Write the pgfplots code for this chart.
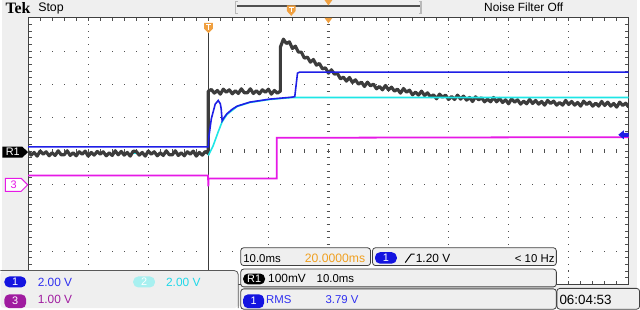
\documentclass[border=0pt]{standalone}
\usepackage{pgfplots}
\pgfplotsset{compat=1.18}
\usepackage{fontspec}
\setmainfont{Liberation Sans}
\newfontfamily\tekfont{Liberation Serif}
\definecolor{bgc}{HTML}{EFEFEF}
\definecolor{gridc}{HTML}{505050}
\definecolor{trgray}{HTML}{3C3C3C}
\definecolor{trblue}{HTML}{1E1EE6}
\definecolor{trcyan}{HTML}{1EE6E6}
\definecolor{trmag}{HTML}{E619E6}
\definecolor{pillblue}{HTML}{1414E0}
\definecolor{txtblue}{HTML}{3030F0}
\definecolor{pillcyan}{HTML}{A8F0F0}
\definecolor{txtcyan}{HTML}{20D8E8}
\definecolor{purp}{HTML}{A01CA0}
\definecolor{orng}{HTML}{F0A040}
\definecolor{orngtxt}{HTML}{F0A020}
\definecolor{boxline}{HTML}{404040}
\begin{document}
\begin{tikzpicture}[x=1pt,y=1pt]
\fill[bgc] (0,0) rectangle (640,309);
\fill[white] (26,22) rectangle (632,291);
% dotted graticule
\foreach \j in {1,2,3,5,6,7}{\foreach \k in {1,...,49}{\fill[gridc] ({26+\k*12.12-0.6},{22+\j*33.625-0.6}) rectangle ++(1.2,1.2);}}
\foreach \i in {1,2,3,4,6,7,8,9}{\foreach \k in {1,...,39}{\fill[gridc] ({26+\i*60.6-0.6},{22+\k*6.725-0.6}) rectangle ++(1.2,1.2);}}
% centre cross ticks
\foreach \k in {1,...,49}{\draw[gridc,line width=0.9] ({26+\k*12.12},154.8) -- ++(0,3.4);}
\foreach \k in {1,...,39}{\draw[gridc,line width=0.9] (327.3,{22+\k*6.725}) -- ++(3.4,0);}
% border ticks
\foreach \k in {1,...,49}{\draw[gridc,line width=0.9] ({26+\k*12.12},291) -- ++(0,-3.5); \draw[gridc,line width=0.9] ({26+\k*12.12},22) -- ++(0,3.5);}
\foreach \k in {1,...,39}{\draw[gridc,line width=0.9] (26,{22+\k*6.725}) -- ++(3.5,0); \draw[gridc,line width=0.9] (632,{22+\k*6.725}) -- ++(-3.5,0);}
\draw[boxline,line width=1.3] (26,22) rectangle (632,291);
\draw[trgray,line width=0.8] (208,22) -- (208,276);

\begin{axis}[at={(26pt,22pt)}, anchor=south west, scale only axis, width=606pt, height=269pt,
  xmin=-30, xmax=70, ymin=-4, ymax=4, hide axis, clip=true]
% Ch2 pre-trigger (under R1)
\addplot[trcyan, line width=1.6pt] coordinates {(-30,-0.07) (0,-0.07)};
% R1 reference (noisy)
\addplot[trgray, line width=3.2pt, line join=round] coordinates {
(-30,-0.01) (-29.5,-0.12) (-29,-0.04) (-28.5,-0.15) (-28,0.00) (-27.5,-0.09) (-27,-0.02) (-26.5,-0.14) (-26,-0.05) (-25.5,-0.13) (-25,0.01) (-24.5,-0.11)
(-24,-0.11) (-23.5,0.01) (-23,-0.13) (-22.5,-0.05) (-22,-0.14) (-21.5,-0.02) (-21,-0.09) (-20.5,0.00) (-20,-0.15) (-19.5,-0.04) (-19,-0.12) (-18.5,-0.01)
(-18,-0.09) (-17.5,-0.02) (-17,-0.14) (-16.5,-0.05) (-16,-0.13) (-15.5,0.01) (-15,-0.11) (-14.5,-0.01) (-14,-0.12) (-13.5,-0.04) (-13,-0.15) (-12.5,0.00)
(-12,-0.01) (-11.5,-0.12) (-11,-0.04) (-10.5,-0.15) (-10,0.00) (-9.5,-0.09) (-9,-0.02) (-8.5,-0.14) (-8,-0.05) (-7.5,-0.13) (-7,0.01) (-6.5,-0.11)
(-6,-0.11) (-5.5,0.01) (-5,-0.13) (-4.5,-0.05) (-4,-0.14) (-3.5,-0.02) (-3,-0.09) (-2.5,0.00) (-2,-0.15) (-1.5,-0.04) (-1,-0.12) (-0.5,-0.01)
(0,-0.07) (0,1.80)
(0.5,1.85) (1,1.74) (1.5,1.82) (2,1.71) (2.5,1.86) (3,1.77) (3.5,1.84) (4,1.72) (4.5,1.81) (5,1.73) (5.5,1.87) (6,1.75)
(6.5,1.75) (7,1.87) (7.5,1.73) (8,1.81) (8.5,1.72) (9,1.84) (9.5,1.77) (10,1.86) (10.5,1.71) (11,1.82) (11.5,1.74)
(12,1.80) (12,3.12)
(12.5,3.36) (13,3.23) (13.5,3.28) (14,3.08) (14.5,3.15) (15,2.97) (15.5,2.97) (16,2.79) (16.5,2.82) (17,2.67) (17.5,2.75) (18,2.58)
(18.5,2.63) (19,2.47) (19.5,2.50) (20,2.34) (20.5,2.44) (21,2.31) (21.5,2.33) (22,2.17) (22.5,2.22) (23,2.10) (23.5,2.21) (24,2.06)
(24.5,2.14) (25,2.01) (25.5,2.07) (26,1.94) (26.5,2.07) (27,1.96) (27.5,2.01) (28,1.87) (28.5,1.94) (29,1.84) (29.5,1.97) (30,1.84)
(30.5,1.92) (31,1.80) (31.5,1.86) (32,1.74) (32.5,1.88) (33,1.77) (33.5,1.83) (34,1.69) (34.5,1.77) (35,1.68) (35.5,1.80) (36,1.67)
(36.5,1.75) (37,1.63) (37.5,1.69) (38,1.57) (38.5,1.71) (39,1.62) (39.5,1.68) (40,1.55) (40.5,1.64) (41,1.55) (41.5,1.68) (42,1.56)
(42.5,1.65) (43,1.53) (43.5,1.61) (44,1.49) (44.5,1.63) (45,1.54) (45.5,1.60) (46,1.48) (46.5,1.56) (47,1.48) (47.5,1.61) (48,1.48)
(48.5,1.58) (49,1.46) (49.5,1.54) (50,1.42) (50.5,1.57) (51,1.47) (51.5,1.54) (52,1.41) (52.5,1.50) (53,1.42) (53.5,1.55) (54,1.43)
(54.5,1.52) (55,1.41) (55.5,1.49) (56,1.38) (56.5,1.52) (57,1.43) (57.5,1.50) (58,1.38) (58.5,1.46) (59,1.38) (59.5,1.52) (60,1.40)
(60.5,1.49) (61,1.38) (61.5,1.46) (62,1.35) (62.5,1.50) (63,1.40) (63.5,1.47) (64,1.35) (64.5,1.44) (65,1.35) (65.5,1.49) (66,1.37)
(66.5,1.47) (67,1.35) (67.5,1.43) (68,1.32) (68.5,1.47) (69,1.37) (69.5,1.44) (70,1.32)};
% Ch3
\addplot[trmag, line width=1.8pt] coordinates {(-30,-0.73) (-0.05,-0.73) (0,-1.06) (0.05,-0.82) (11.4,-0.82) (11.4,0.40) (70,0.42)};
% Ch2
\addplot[trcyan, line width=1.6pt] coordinates {(0,-0.13) (0.8,0.16) (1.65,0.58) (2.3,0.88) (3.1,1.10) (4.8,1.34) (6.9,1.46) (10.2,1.55) (14,1.61) (70,1.61)};
% Ch1
\addplot[trblue, line width=1.6pt] coordinates {(-30,0.13) (0,0.13) (0.05,0.37) (0.5,0.97) (1.15,1.41) (1.65,1.52) (2.0,1.42) (2.15,1.26) (2.3,0.91) (2.6,1.00) (3.1,1.12) (4.0,1.26) (4.8,1.35) (6.9,1.47) (10.2,1.56) (14.0,1.62) (14.4,1.64) (14.85,2.34) (15.2,2.37) (70,2.37)};
\end{axis}

% left markers
\fill[black] (0,161) -- (20,161) -- (26,155.5) -- (20,150) -- (0,150) -- cycle;
\node[white,inner sep=0,font=\fontsize{11}{11}\selectfont] at (10.5,155.5) {R1};
\filldraw[fill=white,draw=trmag,line width=1] (3,129) -- (19,129) -- (25.5,122.5) -- (19,116) -- (3,116) -- cycle;
\node[text=trmag,inner sep=0,font=\fontsize{11}{11}\selectfont] at (11.5,122.5) {3};
% right trigger level marker
\fill[trblue] (621.5,173) -- (627,177.5) -- (627,175) -- (632,175) -- (632,171) -- (627,171) -- (627,168.5) -- cycle;
% trigger position markers
\fill[orng] (203.5,286) -- (212.5,286) -- (212.5,280) -- (208,275.5) -- (203.5,280) -- cycle;
\draw[white,line width=1] (205.5,284) -- (210.5,284) (208,284) -- (208,278.5);
\fill[orng] (325,291) -- (333,291) -- (329,285.5) -- cycle;
% top bar
\node[anchor=base west,inner sep=0,font=\tekfont\bfseries\fontsize{16}{16}\selectfont] at (3,295.5) {Tek};
\node[anchor=base west,inner sep=0,font=\fontsize{12.5}{12.5}\selectfont] at (36,297) {Stop};
\node[anchor=base west,inner sep=0,font=\fontsize{12}{12}\selectfont] at (486,297) {Noise Filter Off};
\draw[gray!55,line width=1.2] (238,307.5) -- (235.5,307.5) -- (235.5,295.5) -- (238,295.5);
\draw[gray!55,line width=1.2] (420,307.5) -- (422.5,307.5) -- (422.5,295.5) -- (420,295.5);
\draw[gridc,line width=2.4] (237,303) -- (421,303);
\fill[orng] (287,303.5) -- (296,303.5) -- (296,298) -- (291.5,293) -- (287,298) -- cycle;
\draw[white,line width=0.9] (289,301.5) -- (294,301.5) (291.5,301.5) -- (291.5,296.5);
\fill[orng] (325,309) -- (333,309) -- (329,303.5) -- cycle;

% bottom-left panel
\fill[bgc,rounded corners=4] (-2,-2) -- (-2,36) -- (238,36) -- (238,-2) -- cycle;
\draw[gray!70!black,line width=0.8,rounded corners=4] (-2,36) -- (238,36) -- (238,-2);
\fill[pillblue,rounded corners=5] (2,19) rectangle (24,30);
\node[white,inner sep=0,font=\fontsize{11}{11}\selectfont] at (13,24.5) {1};
\node[anchor=base west,inner sep=0,text=txtblue,font=\fontsize{12}{12}\selectfont] at (35.5,19.5) {2.00 V};
\fill[pillcyan,rounded corners=5] (132,19) rectangle (154,30);
\node[white,inner sep=0,font=\fontsize{11}{11}\selectfont] at (143,24.5) {2};
\node[anchor=base west,inner sep=0,text=txtcyan,font=\fontsize{12}{12}\selectfont] at (165,19.5) {2.00 V};
\fill[purp,rounded corners=5] (2,-2) rectangle (24,12);
\node[white,inner sep=0,font=\fontsize{11}{11}\selectfont] at (13,5.5) {3};
\node[anchor=base west,inner sep=0,text=purp,font=\fontsize{12}{12}\selectfont] at (35.5,2.5) {1.00 V};

% middle boxes
\filldraw[fill=bgc,draw=boxline,line width=0.8,rounded corners=3] (240.5,41) rectangle (371.5,59);
\node[anchor=base west,inner sep=0,font=\fontsize{11.5}{11.5}\selectfont] at (243,44.5) {10.0ms};
\node[anchor=base west,inner sep=0,text=orngtxt,font=\fontsize{12.3}{12.3}\selectfont] at (305,44.5) {20.0000ms};
\filldraw[fill=bgc,draw=boxline,line width=0.8,rounded corners=3] (373.5,41) rectangle (559,59);
\fill[pillblue,rounded corners=5] (376,43) rectangle (398,54.5);
\node[white,inner sep=0,font=\fontsize{11}{11}\selectfont] at (387,48.7) {1};
\draw[black,line width=1] (406.5,44) -- (412.5,52.5) -- (416,52.5);
\node[anchor=base west,inner sep=0,font=\fontsize{12}{12}\selectfont] at (417,44.5) {1.20 V};
\node[anchor=base west,inner sep=0,font=\fontsize{11.5}{11.5}\selectfont] at (517,44.5) {< 10 Hz};
\filldraw[fill=bgc,draw=boxline,line width=0.8,rounded corners=3] (240.5,19.5) rectangle (559,37.5);
\fill[black,rounded corners=5] (243,22) rectangle (265,33);
\node[white,inner sep=0,font=\fontsize{11}{11}\selectfont] at (254,27.5) {R1};
\node[anchor=base west,inner sep=0,font=\fontsize{12}{12}\selectfont] at (268,23.5) {100mV};
\node[anchor=base west,inner sep=0,font=\fontsize{11.5}{11.5}\selectfont] at (317,23.5) {10.0ms};
\filldraw[fill=bgc,draw=boxline,line width=0.8,rounded corners=3] (240.5,-3) rectangle (559,17.5);
\fill[pillblue,rounded corners=5] (243,-2) rectangle (264,12);
\node[white,inner sep=0,font=\fontsize{11}{11}\selectfont] at (253.5,5.5) {1};
\node[anchor=base west,inner sep=0,text=txtblue,font=\fontsize{11.5}{11.5}\selectfont] at (266,2.5) {RMS};
\node[anchor=base west,inner sep=0,text=txtblue,font=\fontsize{11.5}{11.5}\selectfont] at (326,2.5) {3.79 V};
\filldraw[fill=bgc,draw=boxline,line width=0.8,rounded corners=3] (559.5,-3) rectangle (643,18);
\node[anchor=base west,inner sep=0,font=\fontsize{13.5}{13.5}\selectfont] at (562,1.5) {06:04:53};
\end{tikzpicture}
\end{document}
